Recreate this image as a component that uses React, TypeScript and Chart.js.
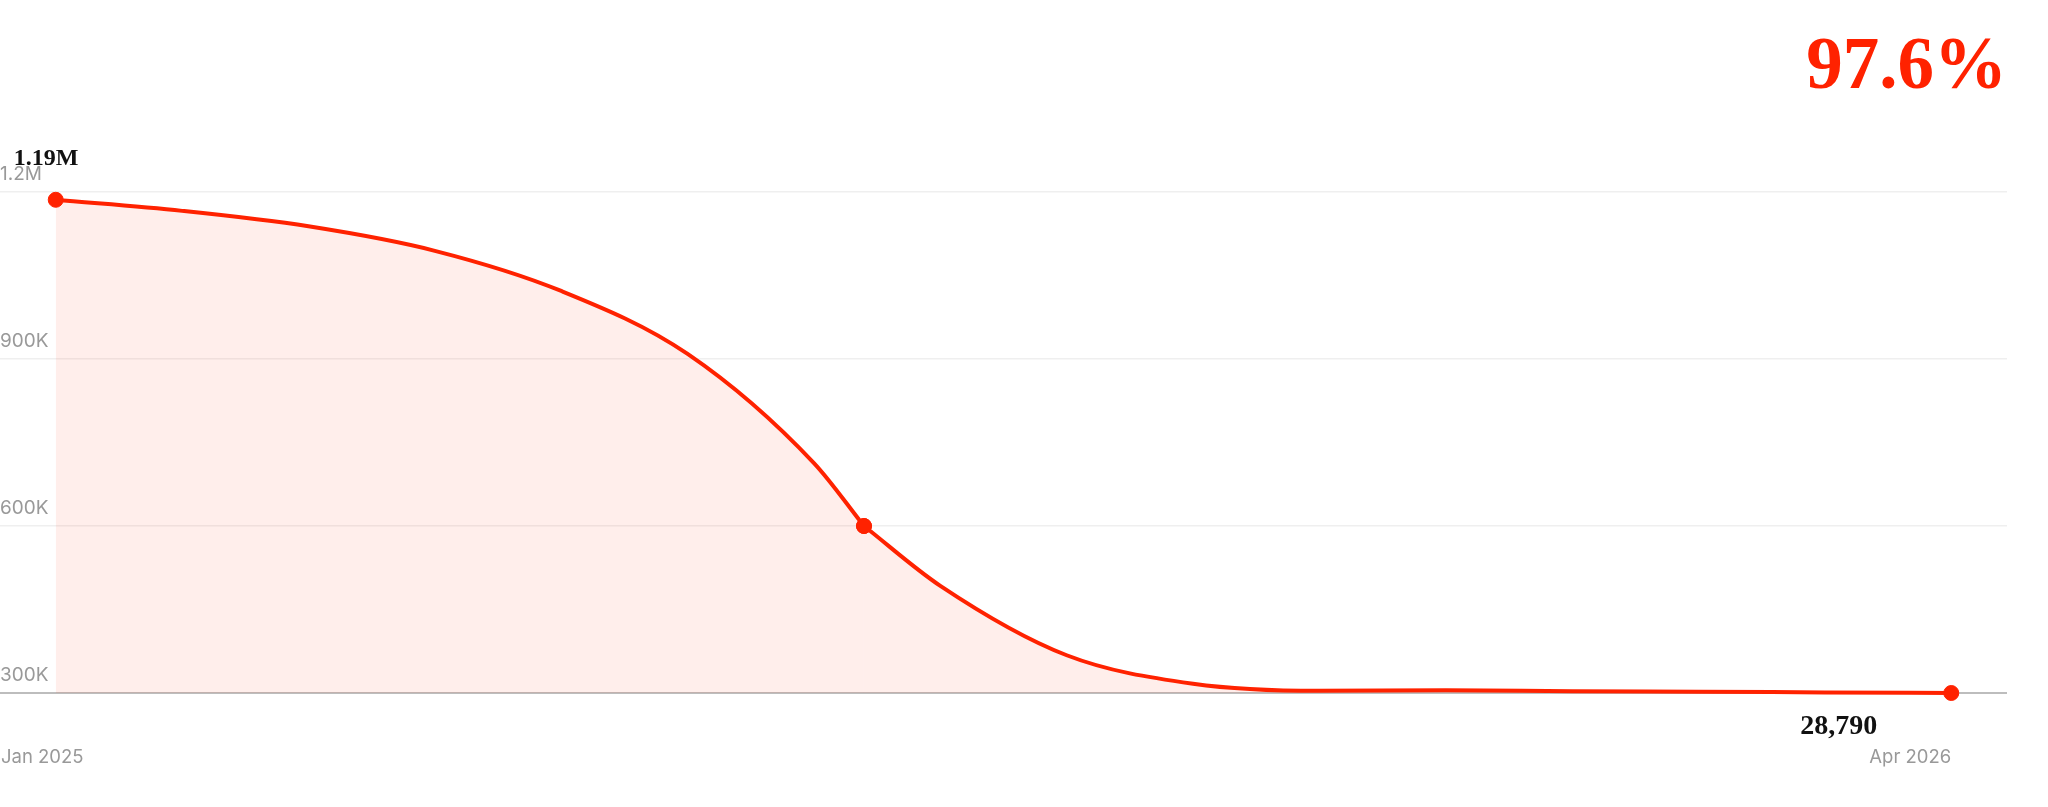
import React, { useEffect, useRef } from "react";
import { Chart, registerables } from "chart.js";

Chart.register(...registerables);

// Position on the time axis, in months since Jan 2025 (0 = Jan 2025, 15 = Apr 2026)
const monthOffsets = [0, 1, 2, 3, 4, 5, 6, 6.396, 7, 8, 9, 10, 11, 12, 13, 14, 15];
const values = [
  1186000, 1166100, 1138300, 1094300, 1022200, 909200, 713000, 600000, 492500,
  367800, 316700, 303900, 305000, 303200, 302300, 301100, 28790,
];
// first point, highlighted mid-year point, last point
const highlightedIdx = [0, 7, 16];
const breakIdx = 7; // the curve changes slope sharply at the highlighted point

const yTicks = [300000, 600000, 900000, 1200000];
const yTickLabels = ["300K", "600K", "900K", "1.2M"];
const xTickLabels = ["Jan 2025", "Apr 2026"];
const startLabel = "1.19M";
const endLabel = "28,790";
const headline = "97.6%";

const Y_MIN = 300000;
const Y_MAX = 1200000;
const X_MIN = -0.441;
const X_MAX = 15.441;

const RED = "#ff2200";

const annotationPlugin = {
  id: "annotations",
  afterDatasetsDraw(chart: any) {
    const { ctx, chartArea } = chart;
    const m0 = chart.getDatasetMeta(0);
    const m1 = chart.getDatasetMeta(1);
    const first = m0.data[0];
    const last = m1.data[m1.data.length - 1];
    ctx.save();
    // headline
    ctx.fillStyle = RED;
    ctx.font = 'bold 73px "Liberation Serif", "DejaVu Serif", serif';
    ctx.textAlign = "right";
    ctx.textBaseline = "alphabetic";
    ctx.fillText(headline, chartArea.right, 88);
    // start value
    ctx.fillStyle = "#111";
    ctx.font = 'bold 24px "Liberation Serif", "DejaVu Serif", serif';
    ctx.textAlign = "left";
    ctx.fillText(startLabel, first.x - 42, first.y - 35);
    // end value
    ctx.font = 'bold 28px "Liberation Serif", "DejaVu Serif", serif';
    ctx.textAlign = "right";
    ctx.fillText(endLabel, last.x - 74, last.y + 41);
    // x labels
    ctx.fillStyle = "#999";
    ctx.font = '18.5px Inter, "Noto Sans", sans-serif';
    ctx.textBaseline = "middle";
    ctx.textAlign = "left";
    ctx.fillText(xTickLabels[0], 1, chartArea.bottom + 64);
    ctx.textAlign = "right";
    ctx.fillText(xTickLabels[1], last.x, chartArea.bottom + 64);
    ctx.restore();
  },
};

function segment(from: number, to: number) {
  const idx = monthOffsets.map((_, i) => i).slice(from, to + 1);
  const data = idx.map((i) => ({ x: monthOffsets[i], y: Math.max(values[i], Y_MIN) }));
  const radii = idx.map((i) => (highlightedIdx.includes(i) ? 7.5 : 0));
  return {
    data,
    borderColor: RED,
    borderWidth: 4,
    backgroundColor: "rgba(255, 34, 0, 0.08)",
    fill: "start",
    cubicInterpolationMode: "monotone" as const,
    pointRadius: radii,
    pointHoverRadius: radii,
    pointBackgroundColor: RED,
    pointBorderColor: RED,
    pointBorderWidth: 1,
    clip: false as any,
  };
}

export default function App() {
  const canvasRef = useRef<HTMLCanvasElement | null>(null);

  useEffect(() => {
    if (!canvasRef.current) return;
    const chart = new Chart(canvasRef.current, {
      type: "line",
      data: {
        datasets: [segment(0, breakIdx), segment(breakIdx, values.length - 1)],
      },
      options: {
        animation: false,
        responsive: true,
        maintainAspectRatio: false,
        layout: { autoPadding: false, padding: { top: 192, bottom: 114, left: 0, right: 41 } },
        plugins: {
          legend: { display: false },
          tooltip: { enabled: false },
        },
        events: [],
        scales: {
          x: {
            type: "linear",
            min: X_MIN,
            max: X_MAX,
            display: false,
          },
          y: {
            type: "linear",
            min: Y_MIN,
            max: Y_MAX,
            afterBuildTicks: (axis: any) => {
              axis.ticks = yTicks.map((v) => ({ value: v }));
            },
            border: { display: false },
            grid: {
              drawTicks: false,
              color: (c: any) => (c.tick && c.tick.value === Y_MIN ? "#bdbdbd" : "#efefef"),
              lineWidth: (c: any) => (c.tick && c.tick.value === Y_MIN ? 2 : 1.5),
            },
            ticks: {
              mirror: true,
              padding: 0,
              labelOffset: -18,
              color: "#999",
              font: { family: 'Inter, "Noto Sans", sans-serif', size: 19 },
              callback: (v: any) => yTickLabels[yTicks.indexOf(Number(v))] ?? "",
            },
          },
        },
      },
      plugins: [annotationPlugin],
    });
    return () => chart.destroy();
  }, []);

  return (
    <div style={{ position: "absolute", left: 0, top: 0, width: 2048, height: 807 }}>
      <canvas ref={canvasRef} />
    </div>
  );
}
